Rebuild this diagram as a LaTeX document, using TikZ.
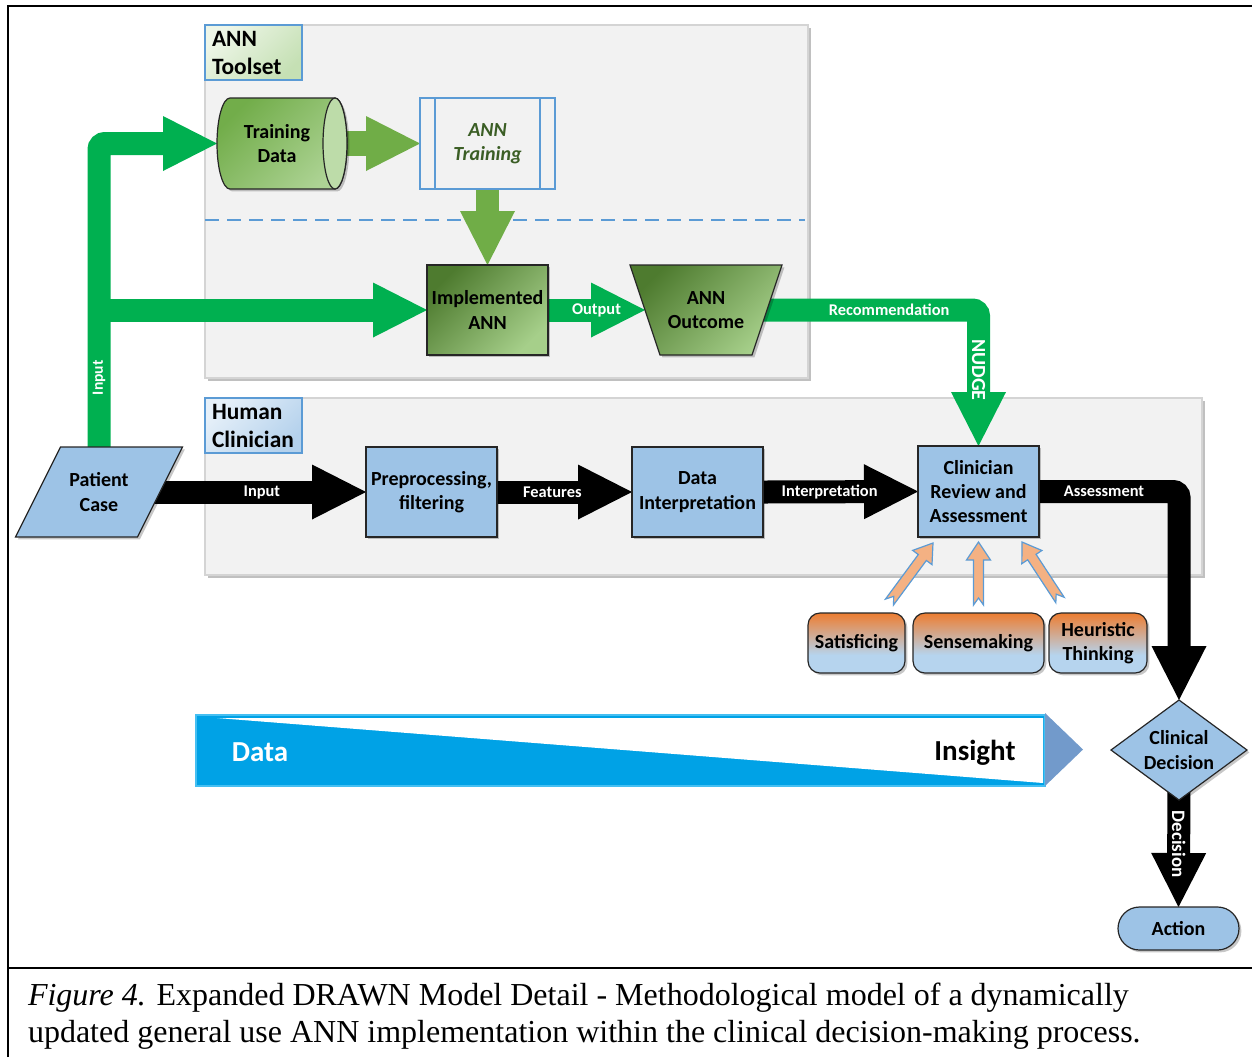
\documentclass[tikz,border=0pt]{standalone}
\usepackage{fontspec}
\setmainfont{Carlito}
\newfontfamily\captionserif{Liberation Serif}
\usetikzlibrary{shapes.geometric,arrows.meta,shadows,calc}

\definecolor{panelgray}{HTML}{F2F2F2}
\definecolor{panelline}{HTML}{D4D4D4}
\definecolor{brightgreen}{HTML}{00B050}
\definecolor{olivegreen}{HTML}{70AD47}
\definecolor{boxblue}{HTML}{9DC3E6}
\definecolor{edgeblue}{HTML}{5B9BD5}
\definecolor{darkleaf}{HTML}{4E7B2F}
\definecolor{lightleaf}{HTML}{A6CF8A}
\definecolor{cylA}{HTML}{72AD4A}
\definecolor{cylB}{HTML}{ADD394}
\definecolor{tagGreenA}{HTML}{EEF6E8}
\definecolor{tagGreenB}{HTML}{C5E0B4}
\definecolor{tagBlueA}{HTML}{E6F0F9}
\definecolor{tagBlueB}{HTML}{B4D1EC}
\definecolor{peach}{HTML}{F4B183}
\definecolor{orangetop}{HTML}{ED7D31}
\definecolor{paleblue}{HTML}{B6D4EE}
\definecolor{barblue}{HTML}{00A2E6}
\definecolor{baredge}{HTML}{45BFF2}
\definecolor{headblue}{HTML}{729ACB}
\definecolor{textgreen}{HTML}{3B5E25}

% orange at the top fading into pale blue at the bottom
\pgfdeclareverticalshading{peachsky}{100bp}{color(0bp)=(paleblue); color(25bp)=(paleblue); color(40bp)=(paleblue); color(75bp)=(orangetop); color(100bp)=(orangetop)}

\pgfdeclarelayer{panels}
\pgfdeclarelayer{links}
\pgfdeclarelayer{bodies}
\pgfsetlayers{panels,links,bodies,main}

% notched block arrow from #1 (tail) to #2 (tip)
\newcommand\notcharrow[2]{%
  \coordinate (na-m) at ($(#2)!9pt!(#1)$);
  \coordinate (na-n) at ($(#1)!3.5pt!(#2)$);
  \draw[notch] ($(#1)!2.5pt!90:(#2)$) -- ($(na-m)!2.5pt!90:(#2)$) -- ($(na-m)!6pt!90:(#2)$)
    -- (#2) -- ($(na-m)!6pt!-90:(#2)$) -- ($(na-m)!2.5pt!-90:(#2)$)
    -- ($(#1)!2.5pt!-90:(#2)$) -- (na-n) -- cycle;}

\begin{document}
\begin{tikzpicture}[x=0.5pt,y=-0.5pt,
  every node/.style={inner sep=0pt, outer sep=0pt},
  boxfont/.style={font=\bfseries\fontsize{10}{12.2}\selectfont},
  softshadow/.style={drop shadow={shadow xshift=1.2pt, shadow yshift=-1.2pt, opacity=0.22, fill=black}},
  panel/.style={draw=panelline, fill=panelgray, line width=0.6pt,
    drop shadow={shadow xshift=1.6pt, shadow yshift=-1.6pt, opacity=0.45, fill=black!55}},
  tag/.style={draw=edgeblue, line width=0.6pt, text width=41.5pt, align=left,
    inner xsep=3.5pt, minimum height=27.5pt, anchor=north west,
    font=\bfseries\fontsize{11.7}{14}\selectfont},
  bluebox/.style={draw=black!85, line width=0.6pt, fill=boxblue, boxfont, align=center, softshadow},
  greenbox/.style={draw=black!85, line width=0.6pt, top color=darkleaf, bottom color=lightleaf,
    shading angle=45, boxfont, align=center, softshadow},
  textonly/.style={boxfont, align=center},
  outline/.style={draw=black!85, line width=0.6pt},
  factor/.style={draw=black!85, line width=0.6pt, rounded corners=6pt, shade, shading=peachsky,
    minimum height=30pt, boxfont, align=center, softshadow},
  notch/.style={fill=peach, draw=edgeblue, line width=0.6pt, line join=miter},
  fat/.style={line width=11.5pt, -{Triangle[width=27.5pt, length=27pt, line width=0pt]}},
  greenlink/.style={fat, draw=brightgreen},
  olivelink/.style={fat, draw=olivegreen},
  blacklink/.style={fat, draw=black},
  albl/.style={text=white, font=\bfseries\fontsize{8.2}{9}\selectfont}
]
\useasboundingbox (0,0) rectangle (1252,1057);

% outer frame and caption rule
\draw[line width=1pt] (8,1057) -- (8,6) -- (1252,6);
\draw[line width=1pt] (8,968) -- (1252,968);

% the two swim lanes
\begin{pgfonlayer}{panels}
  \node[panel, anchor=north west, minimum width=301.5pt, minimum height=176.5pt] (toolpanel) at (205,25) {};
  \node[panel, anchor=north west, minimum width=498.5pt, minimum height=88.5pt] (humanpanel) at (205,398) {};
  \node[tag, top color=tagGreenA, bottom color=tagGreenB, shading angle=45] (tooltag) at (205,25) {ANN\\Toolset};
  \node[tag, top color=tagBlueA, bottom color=tagBlueB, shading angle=45] (humantag) at (205,398) {Human\\Clinician};
  \draw[edgeblue, line width=0.6pt, dash pattern=on 7pt off 4pt] (205,220) -- (805,220);
\end{pgfonlayer}

% ANN toolset
\node[textonly, minimum width=60pt, minimum height=45.5pt] (td) at (277,143.5) {Training\\Data};
\begin{pgfonlayer}{bodies}
  % horizontal drum: curved back on the left, end face on the right
  \path[outline, top color=cylA, bottom color=cylB, shading angle=45, softshadow]
    ($(td.north west)+(13,0)$) -- ($(td.north east)+(-2,0)$)
    arc[start angle=90, end angle=-90, x radius=6pt, y radius=22.75pt]
    -- ($(td.south west)+(13,0)$)
    arc[start angle=270, end angle=90, x radius=6.5pt, y radius=22.75pt] -- cycle;
  \fill[cylB!80!white] ($(td.east)+(-2,0)$) ellipse[x radius=6pt, y radius=22.75pt];
  \draw[outline] ($(td.east)+(-2,0)$) ellipse[x radius=6pt, y radius=22.75pt];
\end{pgfonlayer}
\node[draw=edgeblue, line width=0.6pt, fill=panelgray, minimum width=67.5pt, minimum height=45.5pt,
  font=\bfseries\itshape\fontsize{10}{12.2}\selectfont, text=textgreen, align=center] (at) at (487.5,143.5) {ANN\\Training};
\draw[edgeblue, line width=0.6pt] ($(at.north west)+(15,0)$) -- ($(at.south west)+(15,0)$);
\draw[edgeblue, line width=0.6pt] ($(at.north east)+(-15,0)$) -- ($(at.south east)+(-15,0)$);
\node[greenbox, minimum width=60.5pt, minimum height=45pt] (ia) at (487.5,310) {Implemented\\ANN};
\node[textonly, minimum width=76pt, minimum height=45pt] (ao) at (706,310) {ANN\\Outcome};
\begin{pgfonlayer}{bodies}
  \path[outline, top color=darkleaf, bottom color=lightleaf, shading angle=45, softshadow]
    (ao.north west) -- (ao.north east) -- ($(ao.south east)+(-30,0)$) -- ($(ao.south west)+(30,0)$) -- cycle;
\end{pgfonlayer}

% human clinician
\node[textonly, minimum width=83.5pt, minimum height=45pt] (pc) at (99,492) {Patient\\Case};
\begin{pgfonlayer}{bodies}
  \path[outline, fill=boxblue, softshadow]
    ($(pc.north west)+(45,0)$) -- (pc.north east) -- ($(pc.south east)+(-45,0)$) -- (pc.south west) -- cycle;
\end{pgfonlayer}
\node[bluebox, minimum width=65.5pt, minimum height=45pt] (pp) at (431.5,492) {Preprocessing,\\filtering};
\node[bluebox, minimum width=65.5pt, minimum height=45pt] (di) at (697.5,492) {Data\\Interpretation};
\node[bluebox, minimum width=60.5pt, minimum height=45.5pt] (cr) at (978.5,491.5) {Clinician\\Review and\\Assessment};
\node[bluebox, diamond, aspect=1.36, minimum width=68pt, minimum height=50pt] (cd) at (1179,750) {Clinical\\Decision};
\node[bluebox, rounded corners=10.75pt, minimum width=60.5pt, minimum height=21.5pt] (ac) at (1178.5,928.5) {Action};

% cognitive factors
\node[factor, minimum width=48.5pt] (s1) at (856.5,643) {Satisficing};
\node[factor, minimum width=65.5pt] (s2) at (978.5,643) {Sensemaking};
\node[factor, minimum width=49pt] (s3) at (1098,643) {Heuristic\\Thinking};

\coordinate (f1a) at ($(s1.north)+(33,-11)$);
\coordinate (f1b) at ($(cr.south)+(-45.5,6)$);
\coordinate (f2a) at ($(s2.north)+(0,-8)$);
\coordinate (f2b) at ($(cr.south)+(0,5)$);
\coordinate (f3a) at ($(s3.north)+(-38,-13)$);
\coordinate (f3b) at ($(cr.south)+(43.5,5)$);
\notcharrow{f1a}{f1b}
\notcharrow{f2a}{f2b}
\notcharrow{f3a}{f3b}

% data to insight bar
\fill[barblue] (196,715) rectangle (1045,786);
\fill[white] (217,718) -- (1043,718) -- (1043,783) -- cycle;
\draw[baredge, line width=1pt] (196,715) rectangle (1045,786);
\fill[headblue] (1045,713) -- (1083,749.5) -- (1045,786) -- cycle;
\node[anchor=base, text=white, font=\bfseries\fontsize{14.5}{16}\selectfont] (datatxt) at (260,761) {Data};
\node[anchor=base, font=\bfseries\fontsize{14.5}{16}\selectfont] (insighttxt) at (975,760) {Insight};

% flows
\begin{pgfonlayer}{links}
  \draw[greenlink, rounded corners=3pt] (pc.center) |- node[pos=0.164, albl, rotate=90, font=\bfseries\fontsize{7.8}{9}\selectfont] {Input} (td.west);
  \draw[greenlink] (pc.center |- ia.west) -- (ia.west);
  \draw[olivelink, line width=12.5pt] (td.east) -- (at.west);
  \draw[olivelink] (at.south) -- (ia.north);
  \draw[greenlink] (ia.east) -- node[pos=0.5, albl] {Output} ($(ao.west)+(15,0)$);
  \draw[greenlink, rounded corners=3pt] (ao.center) -| node[pos=0.336, albl] {Recommendation}
     node[pos=0.72, albl, rotate=-90, font=\bfseries\fontsize{10}{11}\selectfont] {NUDGE} (cr.north);
  \draw[blacklink] (pc.center) -- node[pos=0.61, albl] {Input} (pp.west);
  \draw[blacklink] (pp.east) -- node[pos=0.41, albl] {Features} (di.west);
  \draw[blacklink] (di.east) -- node[pos=0.43, albl] {Interpretation} (cr.west);
  \draw[blacklink, rounded corners=3pt] (cr.east) -| node[pos=0.232, albl] {Assessment} (cd.north);
  \draw[blacklink] (cd.center) -- node[pos=0.6, albl, rotate=-90, font=\bfseries\fontsize{9.5}{11}\selectfont] {Decision} (ac.north);
\end{pgfonlayer}

% caption
\node[anchor=north west, align=left, font=\captionserif\fontsize{16}{18.5}\selectfont] (caption) at (28,983)
  {\textit{Figure 4.} Expanded DRAWN Model Detail - Methodological model of a dynamically\\
   updated general use ANN implementation within the clinical decision-making process.};
\end{tikzpicture}
\end{document}
